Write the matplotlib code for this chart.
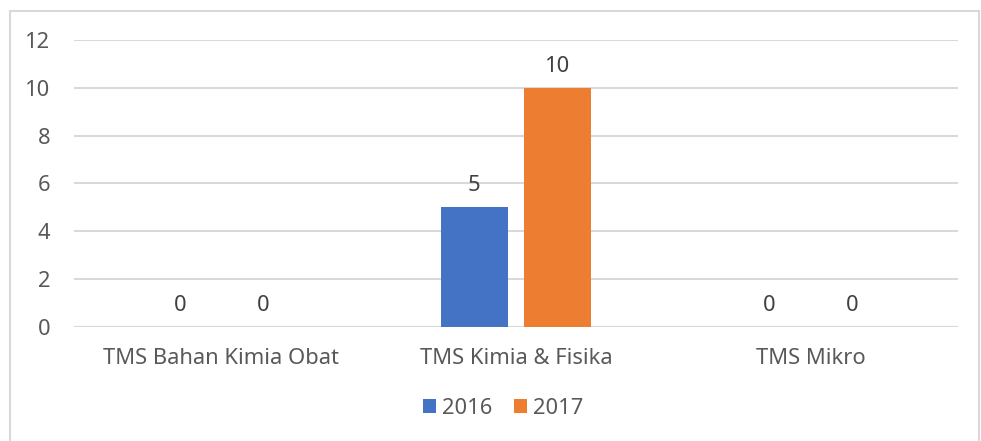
import matplotlib.pyplot as plt
import numpy as np
from matplotlib.patches import Rectangle

categories = ["TMS Bahan Kimia Obat", "TMS Kimia & Fisika", "TMS Mikro"]
years = ["2016", "2017"]
values_2016 = [0, 5, 0]
values_2017 = [0, 10, 0]
colors = ["#4472C4", "#ED7D31"]

plt.rcParams['font.family'] = ['Noto Sans', 'DejaVu Sans']
txt = "#595959"
fs = 15.8

fig = plt.figure(figsize=(9.81, 4.41), dpi=100)
ax = fig.add_axes([0.0754, 0.2585, 0.901, 0.651])

# chart border
fig.patches.append(Rectangle((10 / 981, -0.01), 969 / 981, 1 - 11 / 441 + 0.01,
                             transform=fig.transFigure, fill=False,
                             edgecolor="#d9d9d9", linewidth=1.5))

x = np.arange(len(categories))
w = 0.227
off = 0.141
b1 = ax.bar(x - off, values_2016, w, color=colors[0], label=years[0], zorder=3)
b2 = ax.bar(x + off, values_2017, w, color=colors[1], label=years[1], zorder=3)

for bars in (b1, b2):
    for r in bars:
        h = r.get_height()
        ax.annotate(f"{h:g}", (r.get_x() + r.get_width() / 2, h),
                    xytext=(0, 8), textcoords="offset points",
                    ha="center", va="bottom", fontsize=fs, color="#404040")

ax.set_xlim(-0.5, 2.5)
ax.set_ylim(0, 12)
ax.set_yticks(range(0, 13, 2))
ax.yaxis.grid(True, color="#d9d9d9", linewidth=1.5, zorder=0)
ax.set_axisbelow(True)
for s in ax.spines.values():
    s.set_visible(False)
ax.axhline(0, color="#d9d9d9", linewidth=1.5, zorder=1)
ax.tick_params(axis="both", length=0, labelsize=fs, colors=txt)
ax.tick_params(axis="y", pad=17)
ax.tick_params(axis="x", pad=15)
ax.set_xticks(x)
ax.set_xticklabels(categories)

fig.legend(loc="center", bbox_to_anchor=(503 / 981, 1 - 408 / 441), ncol=2,
           frameon=False, fontsize=fs, handlelength=0.6, handleheight=0.6,
           handletextpad=0.25, columnspacing=1.0, labelcolor=txt)

fig.savefig("out.png", dpi=100)
